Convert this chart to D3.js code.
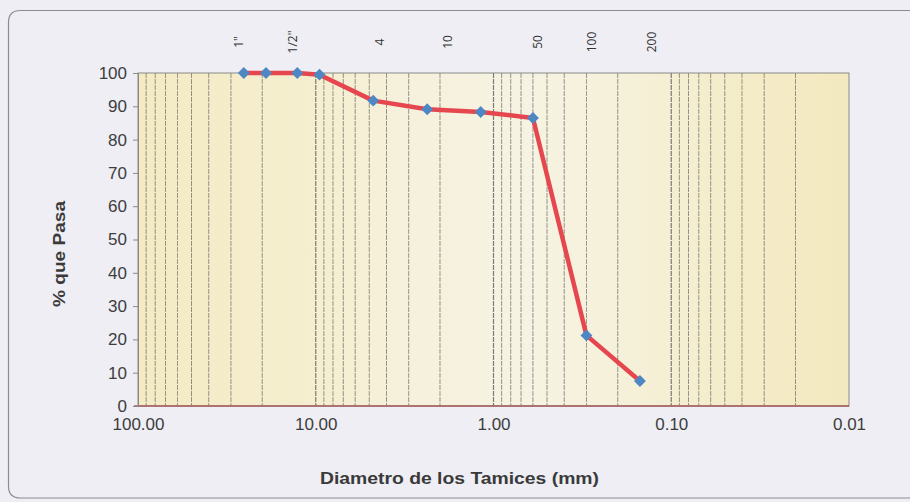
<!DOCTYPE html>
<html><head><meta charset="utf-8">
<script src="https://cdn.jsdelivr.net/npm/d3@7"></script>
<style>
html,body{margin:0;padding:0;background:#eeeef4;overflow:hidden;}
svg{display:block;}
</style></head>
<body>
<svg id="chart" width="910" height="502"></svg>
<script>
// ---- data ----
const diameters = [25.4, 19.05, 12.7, 9.525, 4.75, 2.36, 1.18, 0.6, 0.3, 0.15]; // mm
const passing   = [100, 100, 100, 99.5, 91.7, 89.1, 88.3, 86.5, 21.2, 7.5];   // %
const sieveLabels   = ['1"', '1/2"', '4', '10', '50', '100', '200'];
const sieveLabelPos = [27.0, 13.4, 4.35, 1.80, 0.562, 0.279, 0.128];          // mm
const xTicks = [100, 10, 1, 0.1, 0.01];
const yTicks = [0, 10, 20, 30, 40, 50, 60, 70, 80, 90, 100];
const xTitle = "Diametro de los Tamices (mm)";
const yTitle = "% que Pasa";

// ---- layout ----
const svg = d3.select("#chart");
const L = 138, R = 849, T = 73, B = 406;
const x = d3.scaleLog().domain([100, 0.01]).range([L, R]);
const y = d3.scaleLinear().domain([0, 100]).range([B, T]);

// chart frame (rounded, extends past right edge)
svg.append("path")
  .attr("d", "M 960 10.5 L 20.5 10.5 Q 8.5 10.5 8.5 22.5 L 8.5 486 Q 8.5 498 20.5 498 L 960 498")
  .attr("fill", "#eeeef4").attr("stroke", "#8c8c90").attr("stroke-width", 1.2);

// plot background gradient
const defs = svg.append("defs");
const g = defs.append("linearGradient").attr("id", "bg").attr("x1", 0).attr("x2", 1).attr("y1", 0).attr("y2", 0);
[[0, "#f4ebc4"], [0.25, "#f5eecf"], [0.38, "#f6f1dc"], [0.55, "#f6f3e2"], [0.7, "#f5f0d8"], [0.85, "#f4ecc8"], [1, "#f3e9c0"]]
  .forEach(([o, c]) => g.append("stop").attr("offset", o).attr("stop-color", c));
svg.append("rect").attr("x", L).attr("y", T).attr("width", R - L).attr("height", B - T).attr("fill", "url(#bg)");

// vertical log gridlines
const grid = [];
[100, 10, 1, 0.1].forEach(dec => { for (let k = 1; k <= 9; k++) grid.push(dec / 10 * k); });
svg.append("g").selectAll("line").data(grid.filter(v => v < 100 && v > 0.01)).join("line")
  .attr("x1", d => x(d)).attr("x2", d => x(d)).attr("y1", T).attr("y2", B)
  .attr("stroke", "#666").attr("stroke-width", d => [10, 1, 0.1].some(m => Math.abs(d - m) < 1e-9) ? 1.2 : 0.8)
  .attr("stroke-dasharray", "5,1").attr("opacity", 0.85);

// plot border
svg.append("rect").attr("x", L).attr("y", T).attr("width", R - L).attr("height", B - T)
  .attr("fill", "none").attr("stroke", "#8a8a8a").attr("stroke-width", 1);
svg.append("line").attr("x1", L - 4).attr("x2", R).attr("y1", B).attr("y2", B)
  .attr("stroke", "#a85a5a").attr("stroke-width", 1.5);

// y axis
const yAxis = svg.append("g").attr("transform", `translate(${L},0)`)
  .call(d3.axisLeft(y).tickValues(yTicks).tickSize(5).tickPadding(6));
yAxis.select(".domain").attr("stroke", "#8a8a8a");
yAxis.selectAll(".tick line").attr("stroke", "#8a8a8a");
yAxis.selectAll("text").attr("font-family", "Arial, 'Liberation Sans', sans-serif")
  .attr("font-size", 17).attr("fill", "#3d3d3d");

// x axis
const xAxis = svg.append("g").attr("transform", `translate(0,${B})`)
  .call(d3.axisBottom(x).tickValues(xTicks).tickFormat(d3.format(".2f")).tickSize(0).tickPadding(12));
xAxis.select(".domain").remove();
xAxis.selectAll("text").attr("font-family", "Arial, 'Liberation Sans', sans-serif")
  .attr("font-size", 17).attr("fill", "#3d3d3d");

// sieve labels (rotated)
svg.append("g").selectAll("text").data(sieveLabels).join("text")
  .attr("transform", (d, i) => `translate(${x(sieveLabelPos[i]) + 4},42) rotate(-90)`)
  .attr("text-anchor", "middle")
  .attr("font-family", "'Open Sans', 'DejaVu Sans', sans-serif").attr("font-size", 12)
  .attr("fill", "#333").text(d => d);

// line
const pts = diameters.map((d, i) => [d, passing[i]]);
svg.append("path").datum(pts)
  .attr("d", d3.line().x(d => x(d[0])).y(d => y(d[1])))
  .attr("fill", "none").attr("stroke", "#e6474f").attr("stroke-width", 4.5)
  .attr("stroke-linejoin", "round").attr("stroke-linecap", "round");

// markers
svg.append("g").selectAll("path").data(pts).join("path")
  .attr("transform", d => `translate(${x(d[0])},${y(d[1])})`)
  .attr("d", d3.symbol().type(d3.symbolDiamond2).size(90))
  .attr("fill", "#4d88c4");

// titles
svg.append("text").attr("x", 459.5).attr("y", 484).attr("text-anchor", "middle")
  .attr("font-family", "Arial, 'Liberation Sans', sans-serif").attr("font-weight", "bold")
  .attr("font-size", 17).attr("fill", "#3a3a3a")
  .attr("textLength", 279).attr("lengthAdjust", "spacingAndGlyphs").text(xTitle);
svg.append("text").attr("transform", "translate(65,254) rotate(-90)").attr("text-anchor", "middle")
  .attr("font-family", "Arial, 'Liberation Sans', sans-serif").attr("font-weight", "bold")
  .attr("font-size", 17).attr("fill", "#3a3a3a")
  .attr("textLength", 106).attr("lengthAdjust", "spacingAndGlyphs").text(yTitle);
</script>
</body></html>
